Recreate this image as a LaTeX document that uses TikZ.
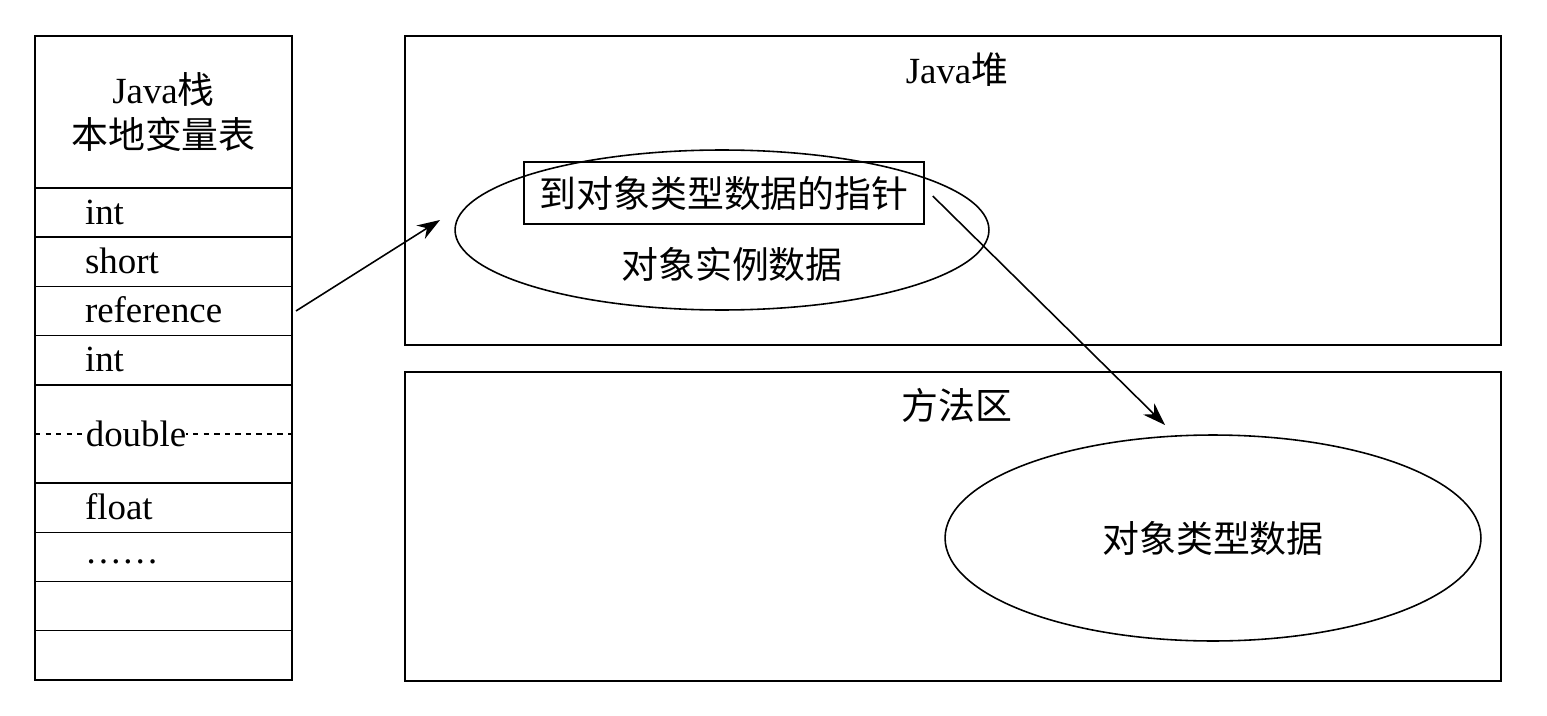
\documentclass[tikz,border=0pt]{standalone}
\usepackage{fontspec}
\setmainfont{Liberation Serif}
\newfontfamily\cjk{Noto Sans CJK SC}
\newcommand{\zh}[1]{{\cjk #1}}
\usetikzlibrary{positioning,shapes.geometric,arrows.meta}

\tikzset{
  cell/.style={draw, outer sep=0pt, inner xsep=1cm, inner ysep=0pt,
    text width=3.14cm, align=left, minimum height=0.984cm,
    text height=3ex, text depth=0.1ex},
  area/.style={draw, minimum width=21.92cm, minimum height=6.18cm},
  arr/.style={-{Stealth[length=13pt, width=9pt]}}
}

\begin{document}
\begin{tikzpicture}[x=0.02cm, y=-0.02cm, line width=0.9pt,
    every node/.append style={font=\fontsize{21}{25.5}\selectfont}]
    \useasboundingbox (0,0) rectangle (1547,716);
    % Java stack
    \node [draw, outer sep=0pt, minimum width=5.14cm, minimum height=3.04cm, align=center]
      (head) at (163.5,112) {Java\zh{栈}\\\zh{本地变量表}};
    \node [cell, below=0pt of head] (int1) {int};
    \node [cell, below=0pt of int1] (short) {short};
    \node [cell, below=0pt of short] (ref) {reference};
    \node [cell, below=0pt of ref] (int2) {int};
    \node [cell, minimum height=1.968cm, below=0pt of int2] (dbl) {};
    \draw [dashed] (dbl.west) -- (dbl.east);
    \node [anchor=west, fill=white, inner xsep=0pt, inner ysep=2pt] (dbltxt)
      at ([xshift=1cm]dbl.west) {double};
    \node [cell, below=0pt of dbl] (float) {float};
    \node [cell, below=0pt of float] (dots) {\raisebox{0.3ex}{……}};
    \node [cell, below=0pt of dots] (empty1) {};
    \node [cell, below=0pt of empty1] (empty2) {};

    % Java heap
    \node [area] (heap) at (953,190.5) {};
    \node (heaptitle) at (957,70) {Java\zh{堆}};
    \node [draw, ellipse, minimum width=10.68cm, minimum height=3.2cm] (obj) at (722,230) {};
    \node [draw, minimum width=8cm, minimum height=1.24cm] (ptr) at (724,193) {\zh{到对象类型数据的指针}};
    \node (objdata) at (732,264) {\zh{对象实例数据}};

    % method area
    \node [area] (method) at (953,526.5) {};
    \node (methodtitle) at (957,405) {\zh{方法区}};
    \node [draw, ellipse, minimum width=10.72cm, minimum height=4.12cm] (cls) at (1213,538)
      {\zh{对象类型数据}};

    % arrows
    \coordinate (objin) at (440,220);
    \coordinate (clsin) at (1165,425);
    \draw [arr] ([xshift=0.08cm]ref.east) -- (objin);
    \draw [arr] ([shift={(8,3)}]ptr.east) -- (clsin);
  \end{tikzpicture}
\end{document}
